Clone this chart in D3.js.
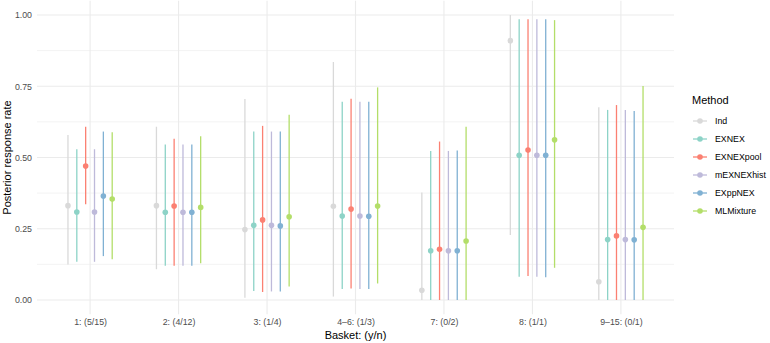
<!DOCTYPE html>
<html>
<head>
<meta charset="utf-8">
<script src="https://cdn.jsdelivr.net/npm/d3@7"></script>
<style>
  body { margin: 0; background: #fff; }
  svg { font-family: "Liberation Sans", Arial, sans-serif; }
</style>
</head>
<body>
<div id="chart"></div>
<script>
// baskets and methods
const baskets = ["1: (5/15)", "2: (4/12)", "3: (1/4)", "4\u20136: (1/3)", "7: (0/2)", "8: (1/1)", "9\u201315: (0/1)"];
const methods = ["Ind", "EXNEX", "EXNEXpool", "mEXNEXhist", "EXppNEX", "MLMixture"];
const methodColors = ["#D9D9D9", "#8DD3C7", "#FB8072", "#BEBADA", "#80B1D3", "#B3DE69"];
const yTicks = [0, 0.25, 0.5, 0.75, 1];

// posterior means, one row per method, one value per basket
const est = [
  [0.331, 0.331, 0.247, 0.329, 0.034, 0.910, 0.064],
  [0.309, 0.308, 0.262, 0.295, 0.173, 0.508, 0.212],
  [0.470, 0.330, 0.281, 0.319, 0.178, 0.526, 0.225],
  [0.309, 0.308, 0.262, 0.295, 0.173, 0.508, 0.212],
  [0.365, 0.308, 0.260, 0.294, 0.173, 0.508, 0.211],
  [0.354, 0.325, 0.292, 0.330, 0.207, 0.562, 0.255]
];
// lower interval bounds
const lower = [
  [0.125, 0.108, 0.008, 0.012, 0.000, 0.228, 0.000],
  [0.134, 0.120, 0.032, 0.039, 0.000, 0.082, 0.000],
  [0.336, 0.120, 0.028, 0.040, 0.000, 0.084, 0.000],
  [0.134, 0.120, 0.030, 0.039, 0.000, 0.082, 0.000],
  [0.154, 0.120, 0.030, 0.039, 0.000, 0.080, 0.000],
  [0.143, 0.129, 0.047, 0.058, 0.000, 0.113, 0.000]
];
// upper interval bounds
const upper = [
  [0.579, 0.608, 0.705, 0.835, 0.377, 1.000, 0.676],
  [0.529, 0.546, 0.591, 0.696, 0.523, 0.985, 0.667],
  [0.608, 0.566, 0.611, 0.706, 0.556, 0.985, 0.684],
  [0.529, 0.546, 0.591, 0.696, 0.523, 0.985, 0.667],
  [0.591, 0.546, 0.591, 0.696, 0.525, 0.985, 0.663],
  [0.589, 0.575, 0.650, 0.746, 0.608, 0.982, 0.751]
];

const W = 770, H = 343;
const margin = {top: 0.75, right: 96, bottom: 28.75, left: 37};
const innerW = W - margin.left - margin.right;
const innerH = H - margin.top - margin.bottom;

const svg = d3.select("#chart").append("svg")
    .attr("width", W)
    .attr("height", H);

const g = svg.append("g")
    .attr("transform", `translate(${margin.left},${margin.top})`);

// discrete x like ggplot: 0.6 expansion on each side
const x = d3.scaleLinear()
    .domain([1 - 0.6, baskets.length + 0.6])
    .range([0, innerW]);

const y = d3.scaleLinear()
    .domain([-0.05, 1.05])
    .range([innerH, 0]);

const color = d3.scaleOrdinal().domain(methods).range(methodColors);

// dodge width 0.6
const dodge = i => (i - (methods.length - 1) / 2) * 0.1;

// grid
const minorTicks = d3.range(0.125, 1, 0.25);
g.append("g").selectAll("line").data(minorTicks).join("line")
    .attr("x1", 0).attr("x2", innerW)
    .attr("y1", d => y(d)).attr("y2", d => y(d))
    .attr("stroke", "#EBEBEB").attr("stroke-width", 0.6);

g.append("g").selectAll("line").data(yTicks).join("line")
    .attr("x1", 0).attr("x2", innerW)
    .attr("y1", d => y(d)).attr("y2", d => y(d))
    .attr("stroke", "#EBEBEB").attr("stroke-width", 1.1);

g.append("g").selectAll("line").data(baskets).join("line")
    .attr("x1", (d, i) => x(i + 1)).attr("x2", (d, i) => x(i + 1))
    .attr("y1", 0).attr("y2", innerH)
    .attr("stroke", "#EBEBEB").attr("stroke-width", 1.1);

// axes
const yAxis = g.append("g")
    .call(d3.axisLeft(y).tickValues(yTicks).tickFormat(d3.format(".2f")).tickSize(0).tickPadding(5));
yAxis.select(".domain").remove();
yAxis.selectAll("text").attr("fill", "#4D4D4D").attr("font-size", "8.8px");

const xAxis = g.append("g")
    .attr("transform", `translate(0,${innerH})`)
    .call(d3.axisBottom(x).tickValues(d3.range(1, baskets.length + 1))
        .tickFormat(d => baskets[d - 1]).tickSize(0).tickPadding(5));
xAxis.select(".domain").remove();
xAxis.selectAll("text").attr("fill", "#4D4D4D").attr("font-size", "8.8px");

// intervals and points
const rows = [];
methods.forEach((m, i) => {
  baskets.forEach((b, j) => {
    rows.push({method: m, mi: i, bi: j, est: est[i][j], lo: lower[i][j], hi: upper[i][j]});
  });
});

g.append("g").selectAll("line").data(rows).join("line")
    .attr("x1", d => x(d.bi + 1 + dodge(d.mi)))
    .attr("x2", d => x(d.bi + 1 + dodge(d.mi)))
    .attr("y1", d => y(d.lo))
    .attr("y2", d => y(d.hi))
    .attr("stroke", d => color(d.method))
    .attr("stroke-width", 1.3);

g.append("g").selectAll("circle").data(rows).join("circle")
    .attr("cx", d => x(d.bi + 1 + dodge(d.mi)))
    .attr("cy", d => y(d.est))
    .attr("r", 2.8)
    .attr("fill", d => color(d.method));

// axis titles
svg.append("text")
    .attr("x", margin.left + innerW / 2)
    .attr("y", 339)
    .attr("text-anchor", "middle")
    .attr("font-size", "11px")
    .attr("fill", "#000")
    .text("Basket: (y/n)");

svg.append("text")
    .attr("transform", `translate(11,${margin.top + y(0.5)}) rotate(-90)`)
    .attr("text-anchor", "middle")
    .attr("font-size", "11px")
    .attr("fill", "#000")
    .text("Posterior response rate");

// legend
const legend = svg.append("g").attr("transform", "translate(692,0)");
legend.append("text")
    .attr("x", 0).attr("y", 104)
    .attr("font-size", "11px")
    .attr("fill", "#000")
    .text("Method");

const item = legend.selectAll(".item").data(methods).join("g")
    .attr("class", "item")
    .attr("transform", (d, i) => `translate(0,${121 + i * 18})`);
item.append("line")
    .attr("x1", 1).attr("x2", 15)
    .attr("stroke", d => color(d)).attr("stroke-width", 1.3);
item.append("circle")
    .attr("cx", 8).attr("r", 2.8)
    .attr("fill", d => color(d));
item.append("text")
    .attr("x", 23).attr("dy", "0.35em")
    .attr("font-size", "8.8px")
    .attr("fill", "#000")
    .text(d => d);
</script>
</body>
</html>
